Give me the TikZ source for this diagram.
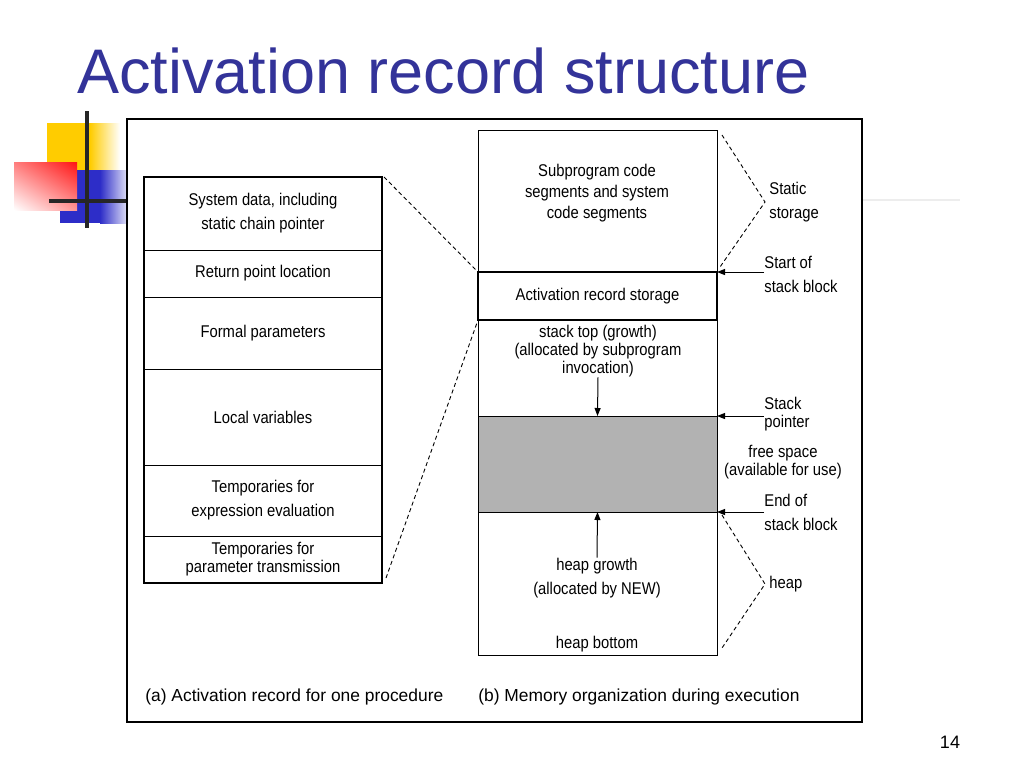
\documentclass[tikz,border=0pt]{standalone}
\usepackage{fontspec}
\setmainfont{Liberation Sans}
\newfontfamily\diagfont[FakeStretch=0.87]{Liberation Sans}
\usetikzlibrary{positioning, arrows.meta, shadings}
\definecolor{titleblue}{RGB}{51,51,153}
\definecolor{decoyellow}{RGB}{255,204,0}
\definecolor{decored}{RGB}{255,20,20}
\definecolor{decoblue}{RGB}{45,45,200}

\begin{document}
\begin{tikzpicture}[x=0.5pt, y=-0.5pt, every node/.style={font=\diagfont\fontsize{8.5}{9}\selectfont}]
  % Styles
  \tikzset{
    cell/.style={rectangle, draw=black, line width=0.5pt, minimum width=119pt, inner sep=0pt, outer sep=0pt, align=center},
    heavy/.style={line width=1.2pt},
    wide/.style={font=\diagfont\fontsize{8.5}{12}\selectfont},
    note/.style={anchor=west, align=left, inner sep=0pt},
    caption/.style={anchor=west, inner sep=0pt, font=\fontsize{8.7}{10}\selectfont},
    ptr/.style={-{Triangle[length=4pt, width=3pt]}, line width=0.5pt},
    guide/.style={dash pattern=on 2pt off 1.5pt, line width=0.45pt}
  }
  \useasboundingbox (0,0) rectangle (1024,768);

  % Slide decoration
  \fill[decoyellow] (47,123) rectangle (91,172);
  \shade[left color=decoyellow, right color=white] (90,123) rectangle (120,172);
  \fill[decoblue] (60,170) rectangle (101,223);
  \shade[left color=decoblue, right color=decoblue!12] (100,170) rectangle (128,223);
  \shade[upper right=decored, lower left=white, upper left=decored!55, lower right=decored!45] (14,162) rectangle (77,210);
  \draw[line width=2pt, black!85] (87,111) -- (87,228);
  \draw[line width=2pt, black!85] (49,201) -- (128,201);
  \draw[line width=0.6pt, black!7] (863,200) -- (960,200);

  % Title and page number
  \node[anchor=base west, inner sep=0pt, text=titleblue, font=\fontsize{31.5}{36}\selectfont] (title) at (77,93) {Activation record structure};
  \node[font=\fontsize{9}{10}\selectfont] (pagenum) at (950,742) {14};

  % Frame
  \draw[line width=0.75pt] (127,119) rectangle (862,722);

  % (a) Activation record
  \node[cell, wide, minimum height=36.5pt] (sys) at (263,213.5) {System data, including\\static chain pointer};
  \node[cell, minimum height=23.5pt] (ret) at (263,273.5) {Return point location};
  \node[cell, minimum height=36pt] (formal) at (263,333) {Formal parameters};
  \node[cell, minimum height=48pt] (local) at (263,417) {Local variables};
  \node[cell, wide, minimum height=35.5pt] (expr) at (263,500.5) {Temporaries for\\expression evaluation};
  \node[cell, minimum height=23.5pt] (param) at (263,559.5) {Temporaries for\\parameter transmission};
  \draw[heavy] (sys.north west) rectangle (param.south east);

  % (b) Memory organization
  \node[cell, minimum width=119.5pt, minimum height=71pt] (code) at (597.5,201) {};
  \node[cell, minimum width=119.5pt, minimum height=48pt] (stack) at (597.5,368) {};
  \node[cell, minimum width=119.5pt, minimum height=48pt, fill=black!30] (free) at (597.5,464) {};
  \node[cell, minimum width=119.5pt, minimum height=71.5pt] (heap) at (597.5,583.5) {};
  \node[cell, heavy, minimum width=119.5pt, minimum height=24pt] (arstore) at (597.5,296) {Activation record storage};

  \node[align=center, inner sep=0pt, font=\diagfont\fontsize{8.5}{10.5}\selectfont] (codetxt) at (597,193) {Subprogram code\\segments and system\\code segments};
  \node[align=center, inner sep=0pt] (stacktxt) at (598,351) {stack top (growth)\\(allocated by subprogram\\invocation)};
  \node[align=center, inner sep=0pt, wide] (heaptxt) at (597,578) {heap growth\\(allocated by NEW)};
  \node[inner sep=0pt] (heapbot) at (597,644) {heap bottom};

  \draw[ptr] (stacktxt.south) -- (free.north);
  \draw[ptr] (heaptxt.north) -- (free.south);

  % Side labels
  \node[note, wide] (staticlbl) at (769,202) {Static\\storage};
  \node[note, wide] (startlbl) at (764,274) {Start of\\stack block};
  \node[note] (splbl) at (764,414) {Stack\\pointer};
  \node[align=center, inner sep=0pt] (freelbl) at (783,462) {free space\\(available for use)};
  \node[note, wide] (endlbl) at (764,512) {End of\\stack block};
  \node[note] (heaplbl) at (769,584) {heap};

  \draw[ptr] (startlbl.west |- arstore.north) -- (arstore.north east);
  \draw[ptr] (splbl.west |- free.north) -- (free.north east);
  \draw[ptr] (endlbl.west |- free.south) -- (free.south east);

  % Dashed braces
  \draw[guide] ([shift={(5,5)}]code.north east) -- ([xshift=-2pt]staticlbl.west) -- ([shift={(3,-5)}]arstore.north east);
  \draw[guide] ([shift={(5,3)}]free.south east) -- ([xshift=-2pt]heaplbl.west) -- ([shift={(5,-7)}]heap.south east);
  \draw[guide] ([xshift=1pt]sys.north east) -- (arstore.north west);
  \draw[guide] ([shift={(4,-5)}]param.south east) -- (arstore.south west);

  % Captions
  \node[caption] (capa) at (145,697) {(a) Activation record for one procedure};
  \node[caption] (capb) at (478,697) {(b) Memory organization during execution};
\end{tikzpicture}
\end{document}
